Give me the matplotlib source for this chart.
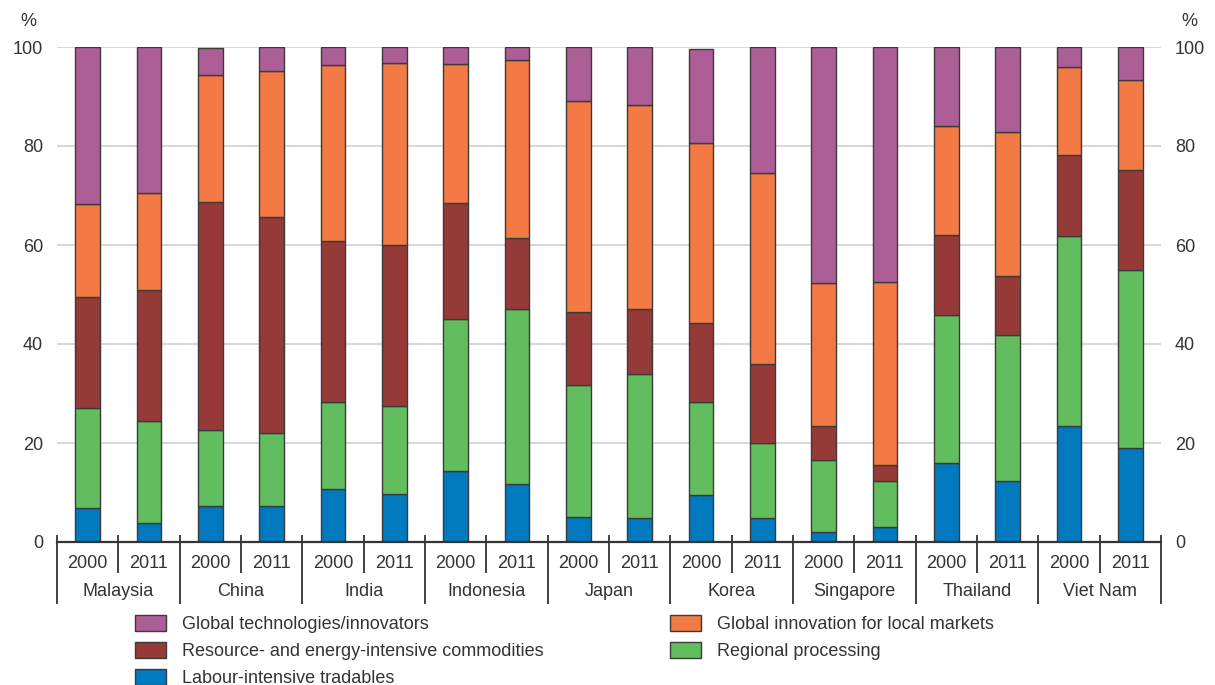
import numpy as np
import matplotlib
matplotlib.use("Agg")
import matplotlib.pyplot as plt
from matplotlib.patches import Patch

# data (cumulative tops, converted to shares below)
countries = ["Malaysia", "China", "India", "Indonesia", "Japan",
             "Korea", "Singapore", "Thailand", "Viet Nam"]
years = ["2000", "2011"]

labour = [6.9, 3.8, 7.2, 7.2, 10.8, 9.7, 14.3, 11.7, 5.0, 4.8,
          9.4, 4.8, 2.0, 3.0, 16.0, 12.3, 23.4, 19.0]
regional = [20.2, 20.7, 15.4, 14.8, 17.5, 17.7, 30.8, 35.3, 26.8, 29.2,
            18.8, 15.3, 14.6, 9.3, 29.9, 29.5, 38.5, 35.9]
resource = [22.4, 26.5, 46.1, 43.7, 32.5, 32.7, 23.4, 14.4, 14.6, 13.0,
            16.1, 15.9, 6.9, 3.3, 16.2, 11.9, 16.3, 20.2]
glob_local = [18.8, 19.6, 25.6, 29.5, 35.5, 36.7, 28.0, 35.9, 42.7, 41.2,
              36.3, 38.5, 28.9, 37.0, 22.0, 29.1, 17.8, 18.3]
glob_tech = [31.7, 29.4, 5.5, 4.8, 3.7, 3.2, 3.5, 2.7, 10.9, 11.8,
             19.0, 25.5, 47.6, 47.4, 15.9, 17.2, 4.0, 6.6]

series = [
    ("Labour-intensive tradables", labour, "#0079be"),
    ("Regional processing", regional, "#62bd5f"),
    ("Resource- and energy-intensive commodities", resource, "#963a38"),
    ("Global innovation for local markets", glob_local, "#f47a45"),
    ("Global technologies/innovators", glob_tech, "#ae5e96"),
]

plt.rcParams['font.family'] = ['Liberation Sans', 'DejaVu Sans']
fs = 13
txt = "#333333"

fig = plt.figure(figsize=(12.15, 6.85), dpi=100)
ax = fig.add_axes([57 / 1215, 143 / 685, (1161 - 57) / 1215, 495 / 685])

x = np.arange(len(labour))
bottom = np.zeros(len(x))
handles = {}
for name, vals, col in series:
    vals = np.array(vals)
    ax.bar(x, vals, 0.4, bottom=bottom, color=col, edgecolor="#3a3a3a",
           linewidth=1.0, zorder=3)
    handles[name] = Patch(facecolor=col, edgecolor="#3a3a3a", linewidth=1.0)
    bottom += vals

ax.set_xlim(-0.5, len(x) - 0.5)
ax.set_ylim(0, 100)
ax.set_yticks(np.arange(0, 101, 20))
ax.yaxis.grid(True, color="#d4d4d4", linewidth=1.3, zorder=0)
ax.tick_params(axis="y", length=0, labelsize=fs, labelcolor=txt,
               labelleft=True, labelright=True, pad=10)
for s in ["left", "right", "top"]:
    ax.spines[s].set_visible(False)
ax.spines["bottom"].set_color("#333333")
ax.spines["bottom"].set_linewidth(1.6)
ax.spines["bottom"].set_zorder(5)

# small ticks at slot boundaries
ax.set_xticks(np.arange(-0.5, len(x), 1.0))
ax.set_xticklabels([])
ax.tick_params(axis="x", direction="in", length=5, width=1.3, color="#333333")

# category axis below
tr = ax.get_xaxis_transform()
h = 495.0
for i in range(len(x)):
    ax.text(i, -21 / h, years[i % 2], transform=tr, ha="center", va="center",
            fontsize=fs, color=txt)
for j, c in enumerate(countries):
    ax.text(2 * j + 0.5, -50 / h, c, transform=tr, ha="center", va="center",
            fontsize=fs, color=txt)
for k in range(len(x) + 1):
    xb = k - 0.5
    low = -62 / h if k % 2 == 0 else -31 / h
    ax.plot([xb, xb], [0, low], transform=tr, color="#333333", lw=1.3,
            clip_on=False, solid_capstyle="butt")

fig.text(20 / 1215, 1 - 21 / 685, "%", fontsize=fs, color=txt, ha="left", va="center")
fig.text(1181 / 1215, 1 - 21 / 685, "%", fontsize=fs, color=txt, ha="left", va="center")

# legend, two columns
col1 = ["Global technologies/innovators",
        "Resource- and energy-intensive commodities",
        "Labour-intensive tradables"]
col2 = ["Global innovation for local markets", "Regional processing"]
kw = dict(frameon=False, fontsize=fs, handlelength=1.7, handleheight=0.95,
          handletextpad=0.9, labelspacing=0.5, borderaxespad=0, borderpad=0,
          labelcolor=txt)
fig.legend([handles[n] for n in col1], col1, loc="upper left",
           bbox_to_anchor=(135 / 1215, 1 - 615 / 685), **kw)
fig.legend([handles[n] for n in col2], col2, loc="upper left",
           bbox_to_anchor=(670 / 1215, 1 - 615 / 685), **kw)

fig.savefig("out.png", dpi=100)
